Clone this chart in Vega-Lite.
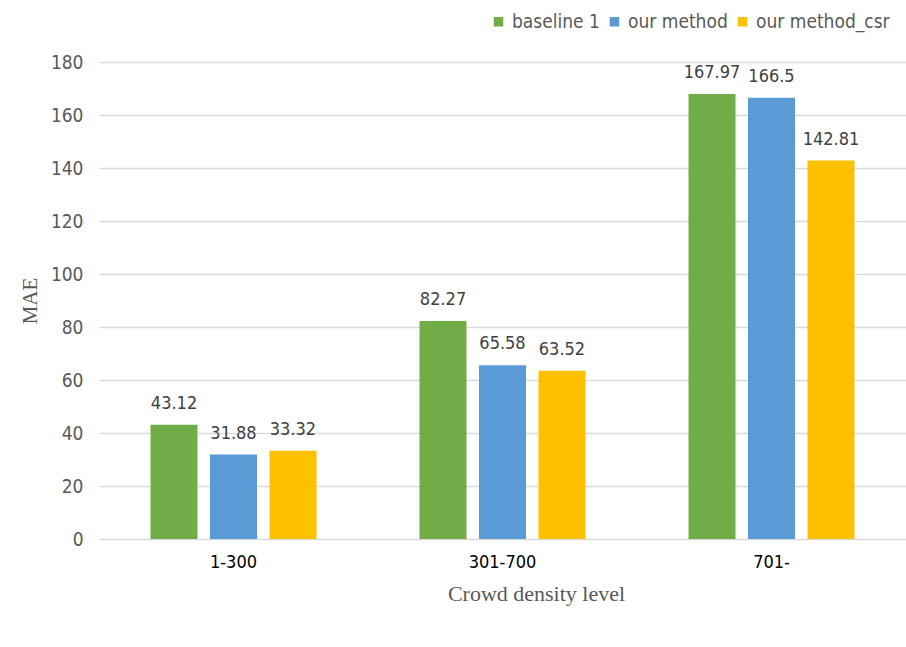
{
  "$schema": "https://vega.github.io/schema/vega-lite/v6.json",
  "width": 807,
  "height": 477,
  "autosize": {"type": "none"},
  "padding": {"left": 99, "top": 62, "right": 0, "bottom": 108},
  "background": "white",
  "data": {
    "values": [
      {"level": "1-300", "method": "baseline 1", "mae": 43.12},
      {"level": "1-300", "method": "our method", "mae": 31.88},
      {"level": "1-300", "method": "our method_csr", "mae": 33.32},
      {"level": "301-700", "method": "baseline 1", "mae": 82.27},
      {"level": "301-700", "method": "our method", "mae": 65.58},
      {"level": "301-700", "method": "our method_csr", "mae": 63.52},
      {"level": "701-", "method": "baseline 1", "mae": 167.97},
      {"level": "701-", "method": "our method", "mae": 166.5},
      {"level": "701-", "method": "our method_csr", "mae": 142.81}
    ]
  },
  "encoding": {
    "x": {
      "field": "level",
      "type": "nominal",
      "sort": null,
      "scale": {"paddingInner": 0.383, "paddingOuter": 0.1915},
      "axis": {
        "title": "Crowd density level",
        "titleFont": "Liberation Serif",
        "titleFontSize": 22,
        "titleFontWeight": "normal",
        "titleColor": "#595959",
        "titlePadding": 12,
        "titleX": 437,
        "labelAngle": 0,
        "labelFont": "Liberation Sans Narrow, DejaVu Sans Condensed, sans-serif",
        "labelFontSize": 18,
        "labelColor": "#000000",
        "labelPadding": 14,
        "domain": false,
        "ticks": false
      }
    },
    "xOffset": {
      "field": "method",
      "type": "nominal",
      "scale": {"paddingInner": 0.21, "paddingOuter": 0}
    },
    "y": {
      "field": "mae",
      "type": "quantitative",
      "scale": {"domain": [0, 180]},
      "axis": {
        "title": "MAE",
        "titleFont": "Liberation Serif",
        "titleFontSize": 21,
        "titleFontWeight": "normal",
        "titleColor": "#595959",
        "titlePadding": 10,
        "values": [0, 20, 40, 60, 80, 100, 120, 140, 160, 180],
        "labelFont": "Liberation Sans Narrow, DejaVu Sans Condensed, sans-serif",
        "labelFontSize": 19,
        "labelColor": "#595959",
        "labelPadding": 16,
        "domain": false,
        "ticks": false,
        "grid": true,
        "gridColor": "#D9D9D9",
        "gridWidth": 1.5
      }
    },
    "color": {
      "field": "method",
      "type": "nominal",
      "scale": {
        "domain": ["baseline 1", "our method", "our method_csr"],
        "range": ["#70AD47", "#5B9BD5", "#FFC000"]
      },
      "legend": {
        "title": null,
        "orient": "none",
        "direction": "horizontal",
        "legendX": 390,
        "legendY": -50,
        "symbolType": "square",
        "symbolSize": 90,
        "symbolStrokeWidth": 0,
        "symbolOffset": 0,
        "labelFont": "Liberation Sans Narrow, DejaVu Sans Condensed, sans-serif",
        "labelFontSize": 19,
        "labelColor": "#595959",
        "labelOffset": 4,
        "columnPadding": 5
      }
    }
  },
  "layer": [
    {"mark": {"type": "bar"}},
    {
      "mark": {
        "type": "text",
        "baseline": "bottom",
        "dy": -12,
        "font": "Liberation Sans Narrow, DejaVu Sans Condensed, sans-serif",
        "fontSize": 18,
        "color": "#404040"
      },
      "encoding": {
        "text": {"field": "mae", "type": "quantitative"},
        "color": {"value": "#404040"}
      }
    }
  ],
  "config": {"view": {"stroke": null}}
}
